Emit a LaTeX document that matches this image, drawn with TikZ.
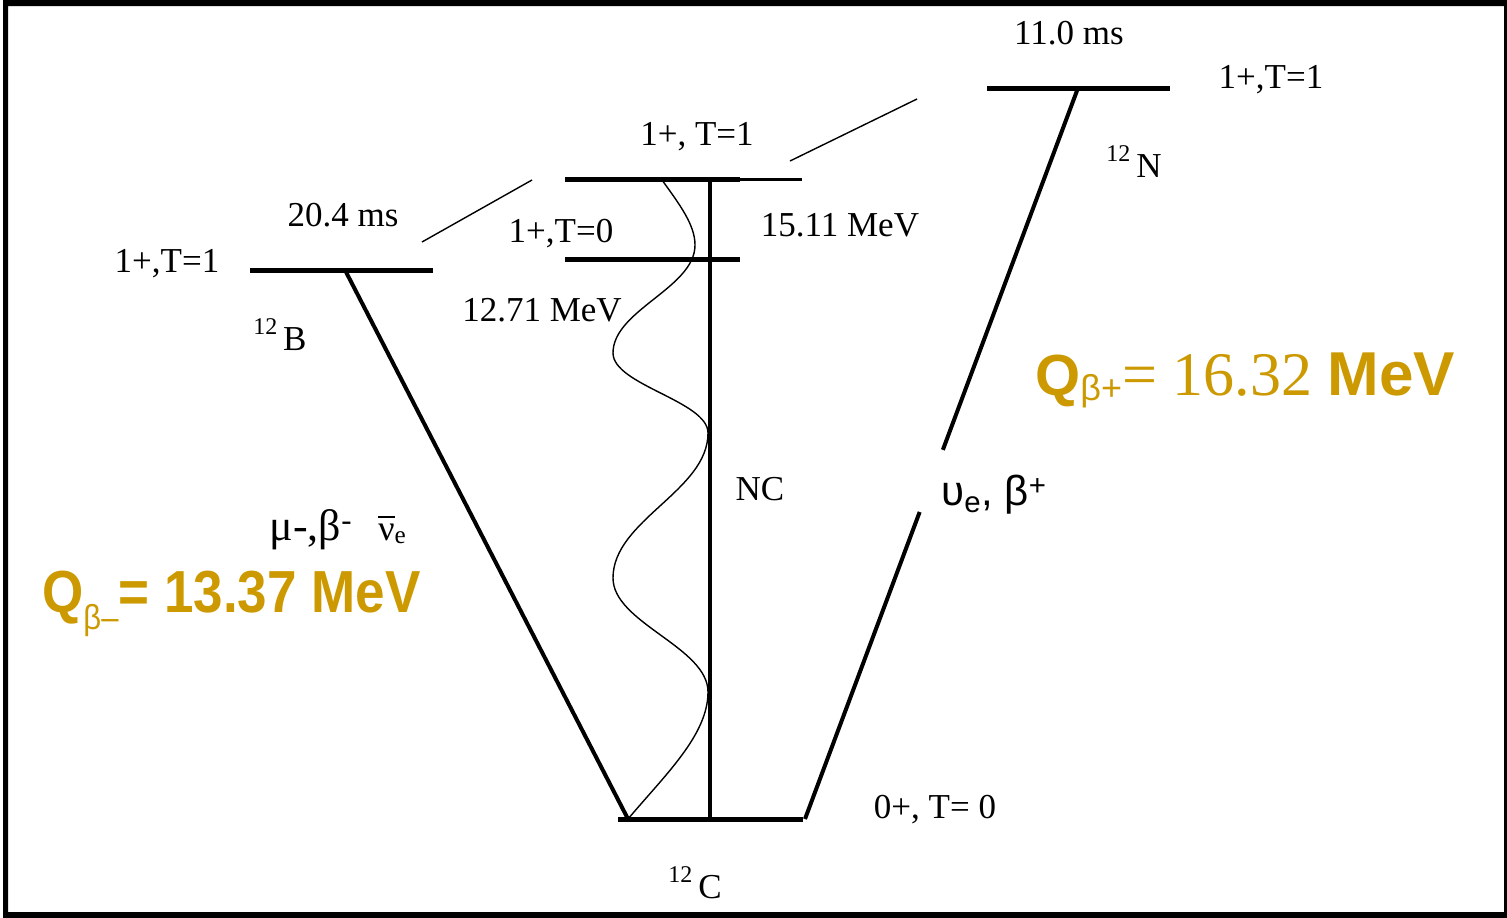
\documentclass[tikz,border=0pt]{standalone}
\usepackage{fontspec}
\setmainfont{Liberation Serif}
\setsansfont{Liberation Sans}
\usetikzlibrary{calc}
\definecolor{qgold}{RGB}{204,153,0}

\tikzset{
    level/.style={line width=5pt},
    sublevel/.style={line width=3pt},
    decay/.style={line width=4pt},
    guide/.style={line width=1.4pt},
    wave/.style={line width=1.4pt},
    lbl/.style={inner sep=0pt, anchor=base, font=\fontsize{35}{40}\selectfont},
    qlbl/.style={inner sep=0pt, anchor=base west, text=qgold}
}

\newcommand{\iso}[2]{\raisebox{0.45em}{\fontsize{24}{24}\selectfont #1}\,#2}
\newcommand{\nubar}{{\fontsize{36}{36}\selectfont\rlap{\raisebox{0.62em}{\rule{0.45em}{0.05em}}}ν\textsubscript{e}}}

\begin{document}
\begin{tikzpicture}[x=1pt, y=-1pt]
\useasboundingbox (0,0) rectangle (1507,918);
\fill[white] (0,0) rectangle (1507,918);
% frame
\fill[even odd rule] (3,0) rectangle (1507,918) (8,6) rectangle (1504,912);

% ===== levels =====
\coordinate (Bl) at (250,270);  \coordinate (Br) at (433,270);
\coordinate (Tl) at (565,179);  \coordinate (Tm) at (740,179);  \coordinate (Tr) at (802,179);
\coordinate (Sl) at (565,259);  \coordinate (Sr) at (740,259);
\coordinate (Nl) at (987,88);   \coordinate (Nr) at (1170,88);
\coordinate (Cl) at (618,819);  \coordinate (Cr) at (803,819);
\draw[level] (Bl) -- (Br);
\draw[level] (Tl) -- (Tm);
\draw[sublevel] (Tm) -- (Tr);
\draw[level] (Sl) -- (Sr);
\draw[level] (Nl) -- (Nr);
\draw[level] (Cl) -- (Cr);

% ===== transitions =====
\coordinate (Bd) at (345,270);  \coordinate (Cd) at (628,819);
\coordinate (Nd) at (1078,88);  \coordinate (Cn) at (805,819);
\coordinate (Ct) at (710,179);  \coordinate (Cb) at (710,819);
\coordinate (Tw) at (662,180);
\draw[decay] (Bd) -- (Cd);
\draw[decay, line width=3.5pt] (Ct) -- (Cb);
\draw[decay] (Nd) -- ($(Nd)!0.495!(Cn)$);
\draw[decay] ($(Nd)!0.58!(Cn)$) -- (Cn);
\draw[wave] (Cd) .. controls (665,775) and (708,735) .. (708,692)
    .. controls (708,647) and (613,623) .. (613,578)
    .. controls (613,520) and (708,491) .. (708,433)
    .. controls (708,401) and (613,385) .. (613,353)
    .. controls (613,310) and (695,288) .. (695,245)
    .. controls (695,225) and (680,205) .. (Tw);

% isospin partners
\coordinate (g1a) at (422,242);  \coordinate (g1b) at (532,180);
\coordinate (g2a) at (790,161);  \coordinate (g2b) at (917,99);
\draw[guide] (g1a) -- (g1b);
\draw[guide] (g2a) -- (g2b);

% ===== labels =====
\node[lbl] (tN) at (1069,44) {11.0 ms};
\node[lbl] (jN) at (1271,88) {1+,T=1};
\node[lbl] (nN) at (1134,177) {\iso{12}{N}};
\node[lbl] (jT) at (697,145) {1+, T=1};
\node[lbl] (tB) at (343,226) {20.4 ms};
\node[lbl] (jS) at (561,242) {1+,T=0};
\node[lbl] (eT) at (840,236) {15.11 MeV};
\node[lbl] (jB) at (167,272) {1+,T=1};
\node[lbl] (nB) at (280,350) {\iso{12}{B}};
\node[lbl] (eS) at (542,321) {12.71 MeV};
\node[lbl] (nc) at (760,500) {NC};
\node[lbl] (jC) at (935,818) {0+, T= 0};
\node[lbl] (nC) at (695,898) {\iso{12}{C}};
\node[lbl, font=\fontsize{44}{48}\selectfont] (mu) at (338,540) {μ-,β\textsuperscript{-}\hspace{0.6em}\nubar};
\node[lbl, font=\fontsize{42}{46}\selectfont\sffamily] (ue) at (994,505) {υ\textsubscript{e}, β\textsuperscript{+}};

% Q values
\node[qlbl] (qm) at (42,612) {\scalebox{1}[1.12]{\sffamily\bfseries\fontsize{53}{53}\selectfont
    Q\raisebox{-0.3em}{\mdseries\fontsize{31}{31}\selectfont β–}= 13.37 MeV}};
\node[qlbl] (qp) at (1035,395) {{\sffamily\bfseries\fontsize{58}{58}\selectfont Q}%
    \raisebox{-0.55em}{\sffamily\fontsize{36}{36}\selectfont β+}%
    {\fontsize{62}{62}\selectfont= 16.32 }%
    {\sffamily\bfseries\fontsize{62}{62}\selectfont MeV}};

\end{tikzpicture}
\end{document}
